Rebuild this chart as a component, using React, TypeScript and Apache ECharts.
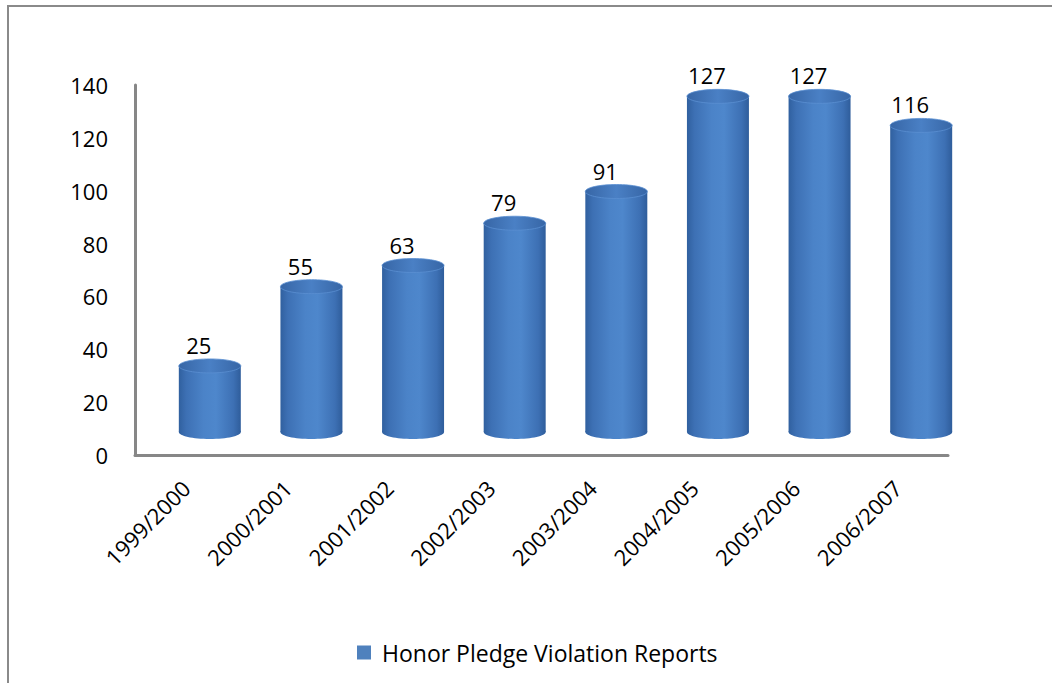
import React, { useEffect, useRef } from "react";
import * as echarts from "echarts";

const categories = ["1999/2000", "2000/2001", "2001/2002", "2002/2003", "2003/2004", "2004/2005", "2005/2006", "2006/2007"];
const reports = [25, 55, 63, 79, 91, 127, 127, 116];
const seriesName = "Honor Pledge Violation Reports";
const yTicks = { min: 0, max: 140, interval: 20 };

const FONT = "'Open Sans', sans-serif";

export default function App() {
  const ref = useRef<HTMLDivElement>(null);
  useEffect(() => {
    if (!ref.current) return;
    const chart = echarts.init(ref.current, null, { renderer: "svg" });
    const bodyFill = new echarts.graphic.LinearGradient(0, 0, 1, 0, [
      { offset: 0, color: "#30609f" },
      { offset: 0.12, color: "#3d70b4" },
      { offset: 0.4, color: "#4b83c8" },
      { offset: 0.6, color: "#4e87cc" },
      { offset: 0.88, color: "#3d70b4" },
      { offset: 1, color: "#2f5d9b" },
    ]);
    const topFill = new echarts.graphic.LinearGradient(0, 0, 1, 0, [
      { offset: 0, color: "#3766a6" },
      { offset: 0.5, color: "#4a80c5" },
      { offset: 1, color: "#3766a6" },
    ]);
    const option: any = {
      animation: false,
      backgroundColor: "#ffffff",
      textStyle: { fontFamily: FONT },
      grid: { left: 135, right: 104, top: 85, bottom: 683 - 455, containLabel: false },
      legend: {
        data: [seriesName],
        left: 352,
        top: 636,
        icon: "rect",
        itemWidth: 14,
        itemHeight: 14,
        textStyle: { fontFamily: FONT, fontSize: 23, color: "#000", padding: [0, 0, 0, 6] },
      },
      xAxis: {
        type: "category",
        data: categories,
        axisLine: { show: true, lineStyle: { color: "#878787", width: 3 } },
        axisTick: { show: false },
        axisLabel: { rotate: 45, margin: 29, fontSize: 22, color: "#000", fontFamily: FONT, interval: 0 },
        splitLine: { show: false },
      },
      yAxis: {
        type: "value",
        min: yTicks.min,
        max: yTicks.max,
        interval: yTicks.interval,
        axisLine: { show: true, lineStyle: { color: "#878787", width: 3 } },
        axisTick: { show: false },
        axisLabel: { margin: 27, fontSize: 22, color: "#000", fontFamily: FONT },
        splitLine: { show: false },
      },
      graphic: [
        {
          type: "rect",
          z: -10,
          silent: true,
          shape: { x: 8, y: 6, width: 1200, height: 800 },
          style: { fill: "none", stroke: "#8a8a8a", lineWidth: 2 },
        },
      ],
      series: [
        {
          name: seriesName,
          type: "custom",
          itemStyle: { color: "#4f81bd" },
          encode: { x: 0, y: 1 },
          data: reports.map((v, i) => [i, v]),
          renderItem: (params: any, api: any) => {
            const idx = api.value(0);
            const val = api.value(1);
            const base = api.coord([idx, 0]);
            const top = api.coord([idx, val]);
            const bw = api.size([1, 0])[0] * 0.61;
            const dx = 24;
            const dy = -23;
            const cx = base[0] + dx;
            const yb = base[1] + dy;
            const yt = top[1] + dy;
            const rx = bw / 2;
            const ry = 7;
            return {
              type: "group",
              children: [
                { type: "ellipse", shape: { cx, cy: yb, rx, ry }, style: { fill: bodyFill } },
                { type: "rect", shape: { x: cx - rx, y: yt, width: bw, height: yb - yt }, style: { fill: bodyFill } },
                { type: "ellipse", shape: { cx, cy: yt, rx, ry }, style: { fill: topFill, stroke: "#5a8fd2", lineWidth: 0.8 } },
                {
                  type: "text",
                  style: {
                    text: String(val),
                    x: cx - 11,
                    y: yt - ry - 3,
                    align: "center",
                    verticalAlign: "bottom",
                    fontSize: 22,
                    fontFamily: FONT,
                    fill: "#000",
                  },
                },
              ],
            };
          },
        },
      ],
    };
    chart.setOption(option);
    return () => chart.dispose();
  }, []);
  return <div ref={ref} style={{ position: "fixed", left: 0, top: 0, width: 1052, height: 683 }} />;
}
